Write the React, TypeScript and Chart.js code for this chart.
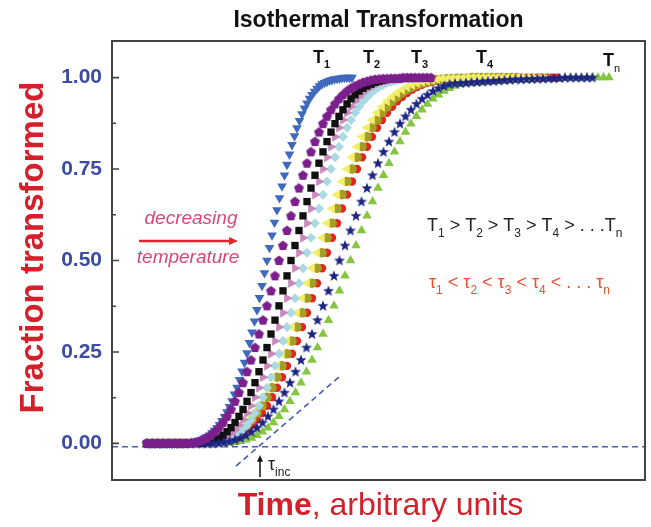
import React, { useEffect, useRef } from "react";
import { Chart, registerables } from "chart.js";

Chart.register(...registerables);

// Fraction transformed for each isothermal run. Each run is sampled at a
// fixed time step (curveStep, in time units), starting at t = 0.
// curve1 = highest temperature (T1) ... curve10 = lowest (Tn).
const curve1 = [
  0, 0, 0, 0, 0, 0, 0, 0, 0, 0,
  0, 0, 0, 0, 0,
  0.001, 0.001, 0.002, 0.003, 0.004, 0.006, 0.008, 0.010, 0.014, 0.018,
  0.022, 0.028, 0.035, 0.042, 0.051, 0.062, 0.073, 0.086, 0.100, 0.116,
  0.134, 0.153, 0.174, 0.197, 0.221, 0.247, 0.275, 0.304, 0.334, 0.365,
  0.398, 0.431, 0.466, 0.500, 0.535, 0.569, 0.604, 0.638, 0.671, 0.703,
  0.733, 0.762, 0.790, 0.816, 0.840, 0.862, 0.882, 0.900, 0.916, 0.930,
  0.943, 0.953, 0.962, 0.970, 0.977, 0.982, 0.986, 0.989, 0.992, 0.994,
  0.996, 0.997, 0.998, 0.999,
  1, 1, 1, 1,
];

const curve2 = [
  0, 0, 0, 0, 0, 0, 0, 0, 0, 0,
  0,
  0.001, 0.003, 0.006, 0.010, 0.015, 0.022, 0.032, 0.043, 0.057, 0.074,
  0.093, 0.115, 0.139, 0.166, 0.196, 0.228, 0.262, 0.299, 0.337, 0.376,
  0.417, 0.458, 0.500, 0.541, 0.582, 0.622, 0.661, 0.698, 0.733, 0.766,
  0.797, 0.825, 0.851, 0.874, 0.894, 0.912, 0.928, 0.942, 0.953, 0.963,
  0.971, 0.977, 0.982, 0.987, 0.990, 0.993, 0.995, 0.996, 0.997, 0.997,
  0.998, 0.998, 0.998,
  1, 1, 1, 1, 1, 1, 1, 1,
];

const curve3 = [
  0, 0, 0, 0, 0, 0, 0, 0, 0, 0,
  0, 0, 0, 0,
  0.001, 0.003, 0.006, 0.010, 0.015, 0.022, 0.032, 0.043, 0.057, 0.074,
  0.093, 0.115, 0.139, 0.166, 0.196, 0.228, 0.262, 0.299, 0.337, 0.376,
  0.417, 0.458, 0.500, 0.541, 0.582, 0.622, 0.661, 0.698, 0.733, 0.766,
  0.797, 0.825, 0.851, 0.874, 0.894, 0.912, 0.928, 0.942, 0.953, 0.963,
  0.971, 0.977, 0.982, 0.987, 0.990, 0.993, 0.995, 0.996, 0.997, 0.997,
  0.998, 0.998, 0.998,
];

const curve4 = [
  0, 0, 0, 0, 0, 0, 0, 0, 0, 0,
  0, 0, 0, 0, 0,
  0.001, 0.002, 0.004, 0.007, 0.012, 0.019, 0.027, 0.037, 0.050, 0.065,
  0.083, 0.103, 0.126, 0.152, 0.181, 0.212, 0.245, 0.280, 0.318, 0.357,
  0.397, 0.438, 0.479, 0.521, 0.562, 0.602, 0.642, 0.680, 0.716, 0.750,
  0.782, 0.811, 0.838, 0.863, 0.884, 0.904, 0.920, 0.935, 0.947, 0.958,
  0.967, 0.974, 0.980, 0.985, 0.988, 0.991, 0.994, 0.995, 0.997, 0.997,
  0.998, 0.998, 0.998,
];

const curve5 = [
  0, 0, 0, 0, 0, 0, 0, 0, 0, 0,
  0, 0, 0, 0, 0, 0, 0,
  0.001, 0.002, 0.004, 0.007, 0.012, 0.019, 0.027, 0.037, 0.050, 0.065,
  0.083, 0.103, 0.126, 0.152, 0.181, 0.212, 0.245, 0.280, 0.318, 0.357,
  0.397, 0.438, 0.479, 0.521, 0.562, 0.602, 0.642, 0.680, 0.716, 0.750,
  0.782, 0.811, 0.838, 0.863, 0.884, 0.904, 0.920, 0.935, 0.947, 0.958,
  0.967, 0.974, 0.980, 0.985, 0.988, 0.991, 0.994, 0.995, 0.997, 0.997,
  0.998, 0.998, 0.998,
];

const curve6 = [
  0, 0, 0, 0, 0, 0, 0, 0, 0, 0,
  0,
  0.001, 0.002, 0.004, 0.007, 0.012, 0.019, 0.027, 0.037, 0.050, 0.065,
  0.083, 0.103, 0.126, 0.152, 0.181, 0.212, 0.245, 0.280, 0.318, 0.357,
  0.397, 0.438, 0.479, 0.521, 0.562, 0.602, 0.642, 0.680, 0.716, 0.750,
  0.782, 0.811, 0.838, 0.863, 0.884, 0.904, 0.920, 0.935, 0.947, 0.958,
  0.967, 0.974, 0.980, 0.985, 0.988, 0.991, 0.994, 0.995, 0.997, 0.997,
  0.998, 0.998, 0.998,
  1, 1, 1, 1, 1, 1, 1, 1, 1, 1,
  1, 1, 1, 1, 1, 1, 1,
];

const curve7 = [
  0, 0, 0, 0, 0, 0, 0, 0, 0, 0,
  0, 0,
  0.001, 0.002, 0.004, 0.007, 0.012, 0.019, 0.027, 0.037, 0.050, 0.065,
  0.083, 0.103, 0.126, 0.152, 0.181, 0.212, 0.245, 0.280, 0.318, 0.357,
  0.397, 0.438, 0.479, 0.521, 0.562, 0.602, 0.642, 0.680, 0.716, 0.750,
  0.782, 0.811, 0.838, 0.863, 0.884, 0.904, 0.920, 0.935, 0.947, 0.958,
  0.967, 0.974, 0.980, 0.985, 0.988, 0.991, 0.994, 0.995, 0.997, 0.997,
  0.998, 0.998, 0.998,
  1, 1, 1, 1, 1, 1, 1, 1, 1, 1,
];

const curve8 = [
  0, 0, 0, 0, 0, 0, 0, 0, 0, 0,
  0, 0, 0,
  0.001, 0.002, 0.004, 0.007, 0.012, 0.019, 0.027, 0.037, 0.050, 0.065,
  0.083, 0.103, 0.126, 0.152, 0.181, 0.212, 0.245, 0.280, 0.318, 0.357,
  0.397, 0.438, 0.479, 0.521, 0.562, 0.602, 0.642, 0.680, 0.716, 0.750,
  0.782, 0.811, 0.838, 0.863, 0.884, 0.904, 0.920, 0.935, 0.947, 0.958,
  0.967, 0.974, 0.980, 0.985, 0.988, 0.991, 0.994, 0.995, 0.997, 0.997,
  0.998, 0.998, 0.998,
  1, 1, 1, 1, 1, 1, 1, 1, 1, 1,
  1, 1, 1, 1, 1, 1, 1,
];

const curve9 = [
  0, 0, 0, 0, 0, 0, 0, 0, 0, 0,
  0, 0, 0,
  0.001, 0.003, 0.006, 0.010, 0.015, 0.022, 0.032, 0.043, 0.057, 0.074,
  0.093, 0.115, 0.139, 0.166, 0.196, 0.228, 0.262, 0.299, 0.337, 0.376,
  0.417, 0.458, 0.500, 0.541, 0.582, 0.622, 0.661, 0.698, 0.733, 0.766,
  0.797, 0.825, 0.851, 0.874, 0.894, 0.912, 0.928, 0.942, 0.953, 0.963,
  0.971, 0.977, 0.982,
  0.984, 0.985, 0.986, 0.987, 0.988, 0.989, 0.990, 0.991, 0.992, 0.993,
  0.994, 0.995, 0.995, 0.996, 0.996, 0.997, 0.997, 0.998, 0.998, 0.999,
  1, 1, 1, 1, 1, 1,
];

const curve10 = [
  0, 0, 0, 0, 0, 0, 0, 0, 0, 0,
  0, 0, 0, 0, 0,
  0.001, 0.003, 0.006, 0.010, 0.015, 0.022, 0.032, 0.043, 0.057, 0.074,
  0.093, 0.115, 0.139, 0.166, 0.196, 0.228, 0.262, 0.299, 0.337, 0.376,
  0.417, 0.458, 0.500, 0.541, 0.582, 0.622, 0.661, 0.698, 0.733, 0.766,
  0.797, 0.825, 0.851, 0.874, 0.894, 0.912, 0.928, 0.942, 0.953, 0.963,
  0.971, 0.977, 0.982,
  0.984, 0.985, 0.986, 0.987, 0.988, 0.989, 0.990, 0.991, 0.992, 0.993,
  0.994, 0.994, 0.995, 0.995, 0.996, 0.996, 0.997, 0.997, 0.998, 0.998,
  0.999, 0.999, 1, 1, 1, 1, 1,
];

// Sampling interval of each run (time units)
const curveStep = [1, 1.6, 1.6, 1.6, 1.6, 2, 2, 2, 2.2, 2.2];

const yTicks = [0, 0.25, 0.5, 0.75, 1.0];
const yMinorTicks = [0.125, 0.375, 0.625, 0.875];

// Reference lines (data coordinates)
const baselineLevel = -0.009;
const tangentX = [35.6, 77.2];
const tangentY = [-0.062, 0.184];
const incubationX = 45.2;

const FONT = '"Liberation Sans", Arial, sans-serif';
const AXIS_RED = "#d3202a";
const TICK_BLUE = "#3c4ca0";
const DASH_BLUE = "#4b5ab4";

function shapeImage(color: string, points: number, outer: number, inner: number | null) {
  const size = Math.ceil(outer * 2 + 2);
  const c = document.createElement("canvas");
  c.width = size;
  c.height = size;
  const g = c.getContext("2d")!;
  g.fillStyle = color;
  g.beginPath();
  const n = inner == null ? points : points * 2;
  for (let i = 0; i < n; i++) {
    const r = inner == null ? outer : i % 2 === 0 ? outer : inner;
    const ang = -Math.PI / 2 + (i * 2 * Math.PI) / n;
    const px = size / 2 + r * Math.cos(ang);
    const py = size / 2 + r * Math.sin(ang) + 0.3;
    if (i === 0) g.moveTo(px, py);
    else g.lineTo(px, py);
  }
  g.closePath();
  g.fill();
  return c;
}

type Part = [string, boolean];

function drawRich(ctx: CanvasRenderingContext2D, x: number, y: number, parts: Part[], font: string, subFont: string, drop: number) {
  let cx = x;
  ctx.textAlign = "left";
  ctx.textBaseline = "alphabetic";
  for (const [t, sub] of parts) {
    ctx.font = sub ? subFont : font;
    ctx.fillText(t, cx, sub ? y + drop : y);
    cx += ctx.measureText(t).width;
  }
}

const overlay = {
  id: "overlay",
  beforeDatasetsDraw(chart: any) {
    const { ctx, chartArea: a, scales } = chart;
    const xs = scales.x;
    const ys = scales.y;
    ctx.save();
    ctx.strokeStyle = DASH_BLUE;
    ctx.lineWidth = 1.6;
    ctx.setLineDash([6, 4]);
    const yb = ys.getPixelForValue(baselineLevel);
    ctx.beginPath();
    ctx.moveTo(a.left, yb);
    ctx.lineTo(a.right, yb);
    ctx.stroke();
    ctx.beginPath();
    ctx.moveTo(xs.getPixelForValue(tangentX[0]), ys.getPixelForValue(tangentY[0]));
    ctx.lineTo(xs.getPixelForValue(tangentX[1]), ys.getPixelForValue(tangentY[1]));
    ctx.stroke();
    ctx.restore();
  },
  afterDraw(chart: any) {
    const { ctx, chartArea: a, scales } = chart;
    const xs = scales.x;
    const ys = scales.y;
    const X = (v: number) => xs.getPixelForValue(v);
    const Y = (v: number) => ys.getPixelForValue(v);
    ctx.save();

    // frame and inward ticks
    ctx.strokeStyle = "#444";
    ctx.lineWidth = 2;
    ctx.strokeRect(a.left, a.top, a.right - a.left, a.bottom - a.top);
    ctx.lineWidth = 1.6;
    ctx.beginPath();
    for (const v of yTicks) {
      ctx.moveTo(a.left, Y(v));
      ctx.lineTo(a.left + 7, Y(v));
    }
    for (const v of yMinorTicks) {
      ctx.moveTo(a.left, Y(v));
      ctx.lineTo(a.left + 4, Y(v));
    }
    ctx.stroke();

    // title
    ctx.fillStyle = "#111";
    ctx.font = `bold 23px ${FONT}`;
    ctx.textAlign = "center";
    ctx.textBaseline = "alphabetic";
    ctx.fillText("Isothermal Transformation", (a.left + a.right) / 2, 27);

    // y axis title
    ctx.save();
    ctx.translate(43, (a.top + a.bottom) / 2 - 13);
    ctx.rotate(-Math.PI / 2);
    ctx.fillStyle = AXIS_RED;
    ctx.font = `bold 33px ${FONT}`;
    ctx.textAlign = "center";
    ctx.fillText("Fraction transformed", 0, 0);
    ctx.restore();

    // x axis title
    ctx.fillStyle = AXIS_RED;
    ctx.font = `bold 32px ${FONT}`;
    const w1 = ctx.measureText("Time").width;
    ctx.font = `32px ${FONT}`;
    const w2 = ctx.measureText(", arbitrary units").width;
    const sx = (a.left + a.right) / 2 + 2 - (w1 + w2) / 2;
    ctx.textAlign = "left";
    ctx.font = `bold 32px ${FONT}`;
    ctx.fillText("Time", sx, 515);
    ctx.font = `32px ${FONT}`;
    ctx.fillText(", arbitrary units", sx + w1, 515);

    // temperature labels at the plateau
    ctx.fillStyle = "#111";
    const tFont = `bold 18px ${FONT}`;
    const tSub = `bold 11px ${FONT}`;
    drawRich(ctx, X(66.4), Y(1.041), [["T", false], ["1", true]], tFont, tSub, 5);
    drawRich(ctx, X(86.4), Y(1.041), [["T", false], ["2", true]], tFont, tSub, 5);
    drawRich(ctx, X(105.6), Y(1.041), [["T", false], ["3", true]], tFont, tSub, 5);
    drawRich(ctx, X(131.6), Y(1.041), [["T", false], ["4", true]], tFont, tSub, 5);
    drawRich(ctx, X(182.4), Y(1.033), [["T", false], ["n", true]], tFont, `11px ${FONT}`, 6);

    // ordering statements
    ctx.fillStyle = "#222";
    drawRich(
      ctx, X(112), Y(0.582),
      [["T", false], ["1", true], [" > T", false], ["2", true], [" > T", false], ["3", true], [" > T", false], ["4", true], [" > . . .T", false], ["n", true]],
      `18px ${FONT}`, `12px ${FONT}`, 6
    );
    ctx.fillStyle = "#e5502e";
    drawRich(
      ctx, X(112.8), Y(0.425),
      [["τ", false], ["1", true], [" < τ", false], ["2", true], [" < τ", false], ["3", true], [" < τ", false], ["4", true], [" < . . . τ", false], ["n", true]],
      `18px ${FONT}`, `12px ${FONT}`, 6
    );

    // decreasing temperature arrow
    ctx.fillStyle = "#d8467a";
    ctx.font = `italic 19px ${FONT}`;
    ctx.textAlign = "center";
    ctx.fillText("decreasing", X(17.6), Y(0.6));
    ctx.fillText("temperature", X(16.4), Y(0.493));
    const ay = Y(0.553);
    const ax1 = X(-3.2);
    const ax2 = X(36.4);
    ctx.strokeStyle = "#e0262b";
    ctx.fillStyle = "#e0262b";
    ctx.lineWidth = 2.5;
    ctx.beginPath();
    ctx.moveTo(ax1, ay);
    ctx.lineTo(ax2 - 6, ay);
    ctx.stroke();
    ctx.beginPath();
    ctx.moveTo(ax2, ay);
    ctx.lineTo(ax2 - 9, ay - 4);
    ctx.lineTo(ax2 - 9, ay + 4);
    ctx.closePath();
    ctx.fill();

    // incubation time marker
    const ix = X(incubationX);
    ctx.strokeStyle = "#111";
    ctx.fillStyle = "#111";
    ctx.lineWidth = 1.5;
    ctx.beginPath();
    ctx.moveTo(ix, Y(-0.092));
    ctx.lineTo(ix, Y(-0.045));
    ctx.stroke();
    ctx.beginPath();
    ctx.moveTo(ix, Y(-0.032));
    ctx.lineTo(ix - 3, Y(-0.05));
    ctx.lineTo(ix + 3, Y(-0.05));
    ctx.closePath();
    ctx.fill();
    ctx.fillStyle = "#222";
    drawRich(ctx, ix + 8, Y(-0.073), [["τ", false], ["inc", true]], `18px ${FONT}`, `12px ${FONT}`, 6);

    ctx.restore();
  },
};

export default function App() {
  const ref = useRef<HTMLCanvasElement | null>(null);

  useEffect(() => {
    const canvas = ref.current;
    if (!canvas) return;
    const pentagon = shapeImage("#7a1f8b", 5, 5.2, null);
    const star = shapeImage("#1c2484", 5, 5.8, 2.4);

    const curves = [curve1, curve2, curve3, curve4, curve5, curve6, curve7, curve8, curve9, curve10];
    // listed from the top drawing layer to the bottom one
    const series = [
      { idx: 1, color: "#7a1f8b", style: pentagon as any, radius: 5, rotation: 0 },
      { idx: 8, color: "#1c2484", style: star as any, radius: 5, rotation: 0 },
      { idx: 0, color: "#3f69bd", style: "triangle", radius: 5.6, rotation: 180 },
      { idx: 2, color: "#111111", style: "rect", radius: 5.2, rotation: 0 },
      { idx: 3, color: "#c989bd", style: "triangle", radius: 5.6, rotation: 90 },
      { idx: 4, color: "#a9d9e3", style: "rectRot", radius: 5, rotation: 0 },
      { idx: 5, color: "#f2ee6a", style: "triangle", radius: 5.6, rotation: 270 },
      { idx: 6, color: "#a39e25", style: "circle", radius: 4.8, rotation: 0 },
      { idx: 7, color: "#e0261d", style: "circle", radius: 4.2, rotation: 0 },
      { idx: 9, color: "#84c63f", style: "triangle", radius: 5.5, rotation: 0 },
    ];

    const chart = new Chart(canvas, {
      type: "scatter",
      data: {
        datasets: series.map((s) => ({
          label: `curve${s.idx + 1}`,
          data: curves[s.idx].map((v, j) => ({ x: j * curveStep[s.idx], y: v })),
          pointStyle: s.style,
          pointRadius: s.radius,
          pointRotation: s.rotation,
          pointBackgroundColor: s.color,
          pointBorderColor: s.color,
          pointBorderWidth: 0,
          showLine: false,
        })),
      },
      options: {
        animation: false,
        responsive: false,
        devicePixelRatio: 1,
        events: [],
        layout: { padding: { left: 0, right: 6, top: 41, bottom: 47 } },
        plugins: {
          legend: { display: false },
          title: { display: false },
          tooltip: { enabled: false },
        },
        scales: {
          x: { type: "linear", min: -14, max: 199.2, display: false },
          y: {
            type: "linear",
            min: -0.1,
            max: 1.1,
            afterBuildTicks: (s: any) => {
              s.ticks = yTicks.map((v) => ({ value: v }));
            },
            afterFit: (s: any) => {
              s.width = 112;
            },
            grid: { display: false, drawTicks: false },
            border: { display: false },
            ticks: {
              padding: 10,
              color: TICK_BLUE,
              font: { family: FONT, size: 21, weight: "bold" },
              callback: (v: any) => Number(v).toFixed(2),
            },
          },
        },
      },
      plugins: [overlay],
    } as any);

    return () => chart.destroy();
  }, []);

  return (
    <div style={{ position: "absolute", left: 0, top: 0, width: 651, height: 527, background: "#fff" }}>
      <canvas ref={ref} width={651} height={527} style={{ width: 651, height: 527, display: "block" }} />
    </div>
  );
}
